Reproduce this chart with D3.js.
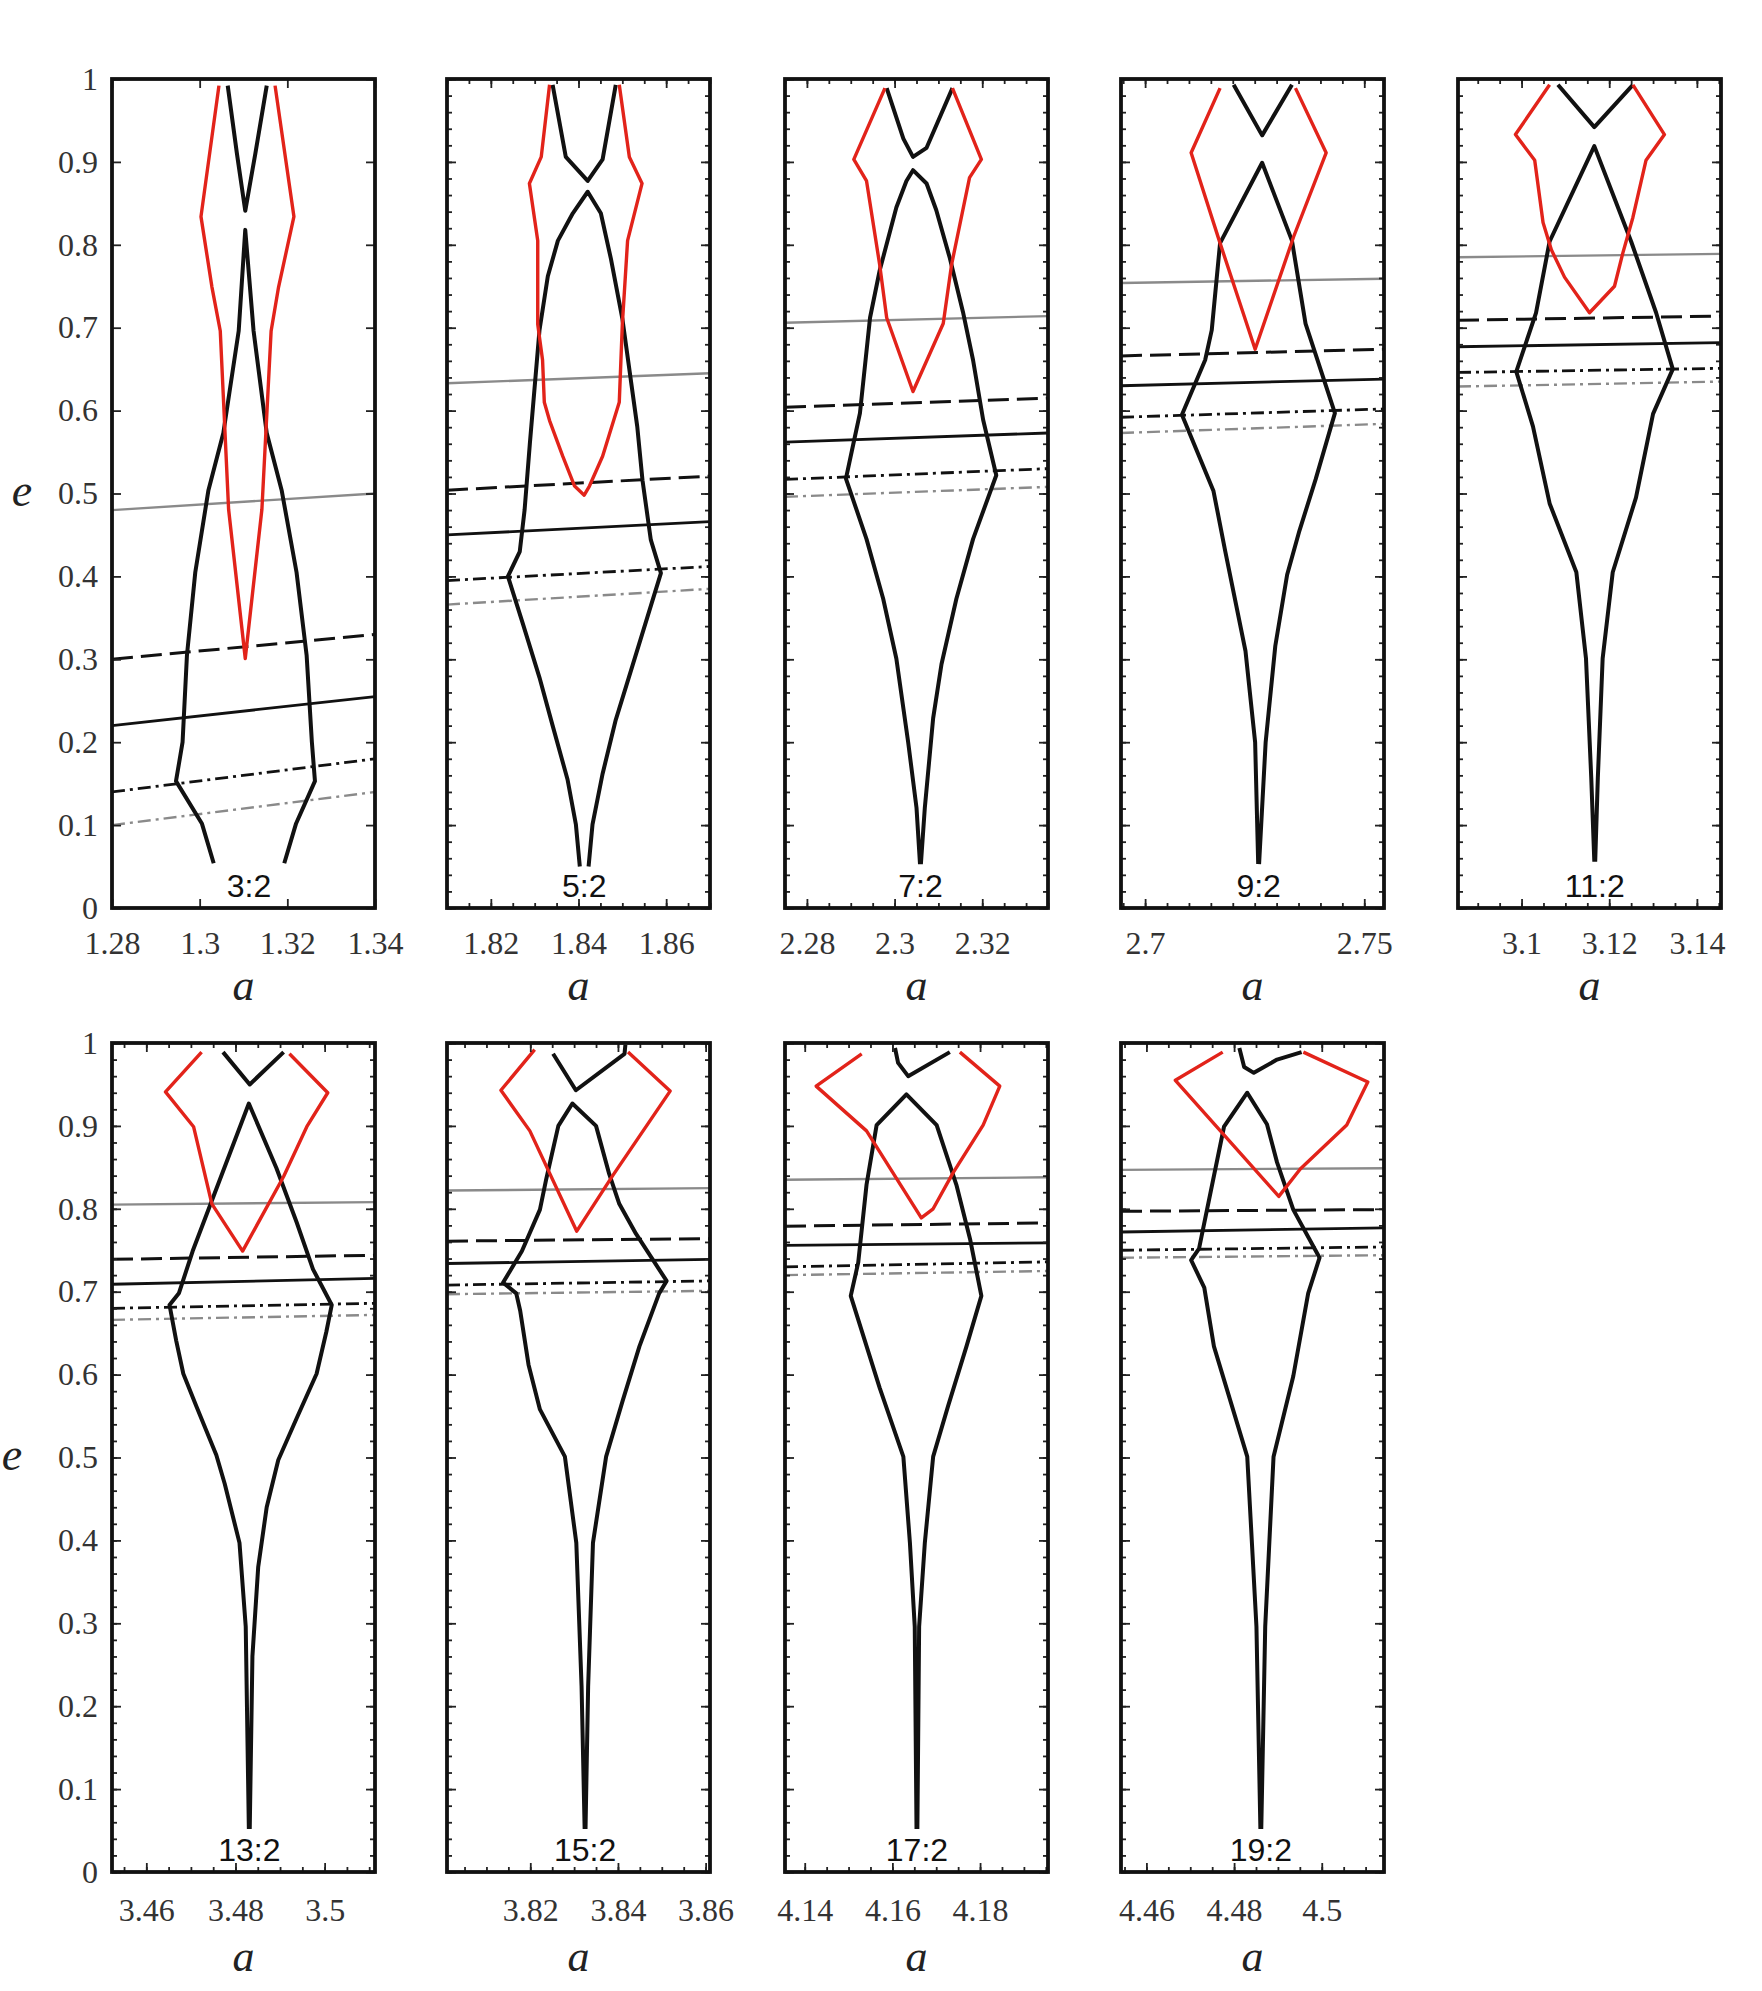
<!DOCTYPE html>
<html>
<head>
<meta charset="utf-8">
<script src="https://cdn.jsdelivr.net/npm/d3@7"></script>
<style>
  body { margin: 0; background: #fff; }
</style>
</head>
<body>
<svg id="chart" width="1762" height="1991"></svg>
<script>
// resonance of each panel, read left to right, top row first
const ratios = ['3:2', '5:2', '7:2', '9:2', '11:2', '13:2', '15:2', '17:2', '19:2'];

// semi-major axis range shown in each panel
const aDomains = [
  [1.28, 1.34], [1.81, 1.87], [2.275, 2.335], [2.6945, 2.7545], [3.0855, 3.1455],
  [3.4523, 3.5113], [3.801, 3.861], [4.1355, 4.1955], [4.4542, 4.5142],
];

// labelled ticks on the a axis
const aTickLabels = [
  [1.28, 1.3, 1.32, 1.34], [1.82, 1.84, 1.86], [2.28, 2.3, 2.32], [2.7, 2.75], [3.1, 3.12, 3.14],
  [3.46, 3.48, 3.5], [3.82, 3.84, 3.86], [4.14, 4.16, 4.18], [4.46, 4.48, 4.5],
];

const eTicks = [0, 0.1, 0.2, 0.3, 0.4, 0.5, 0.6, 0.7, 0.8, 0.9, 1];

// lower black boundary (left foot -> top cusp -> right foot), [a, e]
const lowerBranch = [
  [[1.3032, 0.054], [1.3005, 0.102], [1.2946, 0.153], [1.2961, 0.20], [1.2971, 0.305], [1.2990, 0.405],
   [1.3020, 0.504], [1.3054, 0.573], [1.3089, 0.696], [1.3104, 0.818], [1.3123, 0.696], [1.3153, 0.573],
   [1.3187, 0.504], [1.3221, 0.405], [1.3244, 0.305], [1.3256, 0.20], [1.3263, 0.153], [1.3220, 0.102],
   [1.3193, 0.054]],
  [[1.8403, 0.05], [1.8394, 0.101], [1.8375, 0.155], [1.8341, 0.22], [1.8311, 0.278], [1.8273, 0.343],
   [1.8239, 0.40], [1.8266, 0.43], [1.8277, 0.48], [1.8289, 0.56], [1.8311, 0.697], [1.833, 0.762],
   [1.8353, 0.805], [1.8387, 0.838], [1.8421, 0.864], [1.8451, 0.838], [1.8474, 0.783], [1.85, 0.711],
   [1.8534, 0.581], [1.8546, 0.516], [1.8565, 0.444], [1.8588, 0.404], [1.8523, 0.292], [1.8485, 0.227],
   [1.8455, 0.162], [1.8432, 0.101], [1.8423, 0.05]],
  [[2.3058, 0.053], [2.305, 0.121], [2.3031, 0.2], [2.3004, 0.301], [2.2974, 0.373], [2.2936, 0.445],
   [2.2889, 0.518], [2.2906, 0.56], [2.2921, 0.597], [2.2944, 0.712], [2.2966, 0.769], [2.3004, 0.845],
   [2.3027, 0.877], [2.3042, 0.89], [2.3073, 0.874], [2.3095, 0.842], [2.3126, 0.784], [2.3156, 0.719],
   [2.3179, 0.661], [2.3202, 0.589], [2.3232, 0.522], [2.3179, 0.445], [2.3141, 0.373], [2.3107, 0.294],
   [2.3088, 0.229], [2.3069, 0.121], [2.306, 0.053]],
  [[2.7258, 0.053], [2.7251, 0.2], [2.7229, 0.31], [2.7183, 0.43], [2.7156, 0.503], [2.7084, 0.595],
   [2.7137, 0.661], [2.7152, 0.697], [2.7171, 0.802], [2.7267, 0.899], [2.7335, 0.805], [2.7366, 0.705],
   [2.7433, 0.597], [2.7389, 0.517], [2.7352, 0.455], [2.7324, 0.402], [2.7297, 0.316], [2.7275, 0.2],
   [2.726, 0.053]],
  [[3.1166, 0.056], [3.1159, 0.157], [3.1147, 0.301], [3.1125, 0.405], [3.1064, 0.488], [3.1026, 0.581],
   [3.0988, 0.647], [3.1033, 0.718], [3.1064, 0.804], [3.1166, 0.919], [3.125, 0.804], [3.1307, 0.718],
   [3.1345, 0.65], [3.13, 0.596], [3.1261, 0.495], [3.1208, 0.405], [3.1185, 0.301], [3.1174, 0.157],
   [3.1168, 0.056]],
  [[3.483, 0.052], [3.4823, 0.296], [3.4809, 0.397], [3.4776, 0.468], [3.4757, 0.503], [3.4712, 0.562],
   [3.4683, 0.601], [3.4667, 0.641], [3.4652, 0.684], [3.4673, 0.698], [3.4704, 0.749], [3.483, 0.927],
   [3.4892, 0.849], [3.4937, 0.784], [3.4974, 0.727], [3.5016, 0.684], [3.5004, 0.652], [3.4982, 0.601],
   [3.4937, 0.547], [3.4896, 0.497], [3.487, 0.44], [3.4851, 0.368], [3.4838, 0.26], [3.4832, 0.052]],
  [[3.8324, 0.052], [3.8317, 0.224], [3.8305, 0.397], [3.8279, 0.501], [3.8222, 0.558], [3.8196, 0.612],
   [3.8177, 0.677], [3.8168, 0.698], [3.8138, 0.711], [3.8181, 0.749], [3.8222, 0.799], [3.8236, 0.835],
   [3.8264, 0.9], [3.8296, 0.927], [3.835, 0.9], [3.838, 0.842], [3.8403, 0.806], [3.8441, 0.77],
   [3.8511, 0.713], [3.8494, 0.698], [3.8449, 0.634], [3.8411, 0.569], [3.8373, 0.501], [3.8343, 0.397],
   [3.8332, 0.224], [3.8326, 0.052]],
  [[4.1655, 0.052], [4.1651, 0.296], [4.164, 0.397], [4.1625, 0.501], [4.1571, 0.584], [4.1505, 0.695],
   [4.1522, 0.735], [4.1541, 0.829], [4.1564, 0.901], [4.1632, 0.938], [4.1701, 0.901], [4.1746, 0.829],
   [4.1777, 0.764], [4.1803, 0.695], [4.1769, 0.634], [4.1727, 0.562], [4.1693, 0.501], [4.1674, 0.397],
   [4.1661, 0.296], [4.1657, 0.052]],
  [[4.486, 0.052], [4.4851, 0.296], [4.483, 0.501], [4.4754, 0.634], [4.4732, 0.705], [4.4702, 0.738],
   [4.472, 0.752], [4.4777, 0.899], [4.483, 0.94], [4.4875, 0.902], [4.4898, 0.856], [4.4935, 0.799],
   [4.4995, 0.741], [4.4969, 0.698], [4.4935, 0.598], [4.489, 0.501], [4.4871, 0.296], [4.4862, 0.052]],
];

// upper black boundary near e = 1
const upperBranch = [
  [[1.3064, 0.992], [1.3085, 0.91], [1.3104, 0.841], [1.3127, 0.91], [1.3153, 0.992]],
  [[1.8341, 0.993], [1.8371, 0.906], [1.8421, 0.877], [1.8455, 0.903], [1.8485, 0.993]],
  [[2.2982, 0.989], [2.302, 0.928], [2.3042, 0.906], [2.3073, 0.917], [2.3132, 0.989]],
  [[2.7202, 0.993], [2.7267, 0.932], [2.7335, 0.993]],
  [[3.1083, 0.993], [3.1166, 0.942], [3.1254, 0.993]],
  [[3.4772, 0.989], [3.4832, 0.95], [3.4908, 0.989]],
  [[3.8252, 0.987], [3.8304, 0.943], [3.8415, 0.987], [3.8417, 0.998]],
  [[4.1606, 0.994], [4.1613, 0.976], [4.1636, 0.96], [4.1731, 0.989]],
  [[4.4812, 0.994], [4.4823, 0.971], [4.4845, 0.964], [4.4898, 0.98], [4.4954, 0.989]],
];

// red boundary
const redBoundary = [
  [[1.3044, 0.992], [1.3003, 0.834], [1.3028, 0.749], [1.3047, 0.696], [1.3066, 0.481], [1.3104, 0.301],
   [1.3142, 0.481], [1.3163, 0.696], [1.318, 0.749], [1.3215, 0.834], [1.3172, 0.992]],
  [[1.8334, 0.993], [1.8315, 0.906], [1.8288, 0.874], [1.8307, 0.805], [1.8307, 0.704], [1.8318, 0.661],
   [1.8322, 0.61], [1.8334, 0.588], [1.8364, 0.545], [1.8391, 0.509], [1.8413, 0.498], [1.8425, 0.509],
   [1.8455, 0.545], [1.8493, 0.61], [1.85, 0.704], [1.8512, 0.805], [1.8545, 0.874], [1.8516, 0.906],
   [1.8493, 0.993]],
  [[2.2978, 0.989], [2.2907, 0.903], [2.2936, 0.877], [2.2966, 0.776], [2.2982, 0.712], [2.3042, 0.623],
   [2.3111, 0.705], [2.313, 0.776], [2.3171, 0.881], [2.3198, 0.903], [2.3132, 0.989]],
  [[2.7171, 0.989], [2.7105, 0.911], [2.7171, 0.802], [2.7251, 0.674], [2.7339, 0.81], [2.7413, 0.911],
   [2.7343, 0.989]],
  [[3.1064, 0.993], [3.0986, 0.933], [3.103, 0.902], [3.1049, 0.827], [3.1068, 0.794], [3.1098, 0.761],
   [3.1155, 0.718], [3.1212, 0.75], [3.1231, 0.79], [3.1254, 0.833], [3.1284, 0.902], [3.1326, 0.933],
   [3.1254, 0.993]],
  [[3.4724, 0.989], [3.4643, 0.941], [3.4706, 0.899], [3.4747, 0.806], [3.4816, 0.749], [3.4908, 0.839],
   [3.496, 0.899], [3.5007, 0.94], [3.4921, 0.987]],
  [[3.821, 0.992], [3.8133, 0.943], [3.8199, 0.894], [3.8306, 0.773], [3.8388, 0.84], [3.8519, 0.942],
   [3.8423, 0.989]],
  [[4.153, 0.987], [4.1426, 0.948], [4.1541, 0.894], [4.1666, 0.789], [4.1693, 0.8], [4.1738, 0.843],
   [4.1807, 0.901], [4.1845, 0.948], [4.1754, 0.989]],
  [[4.4774, 0.989], [4.4666, 0.955], [4.4902, 0.815], [4.4951, 0.848], [4.5057, 0.901], [4.5105, 0.953],
   [4.4958, 0.989]],
];

// straight lines across each panel: e at the left and right edge
const grayLine = [[0.48, 0.50], [0.633, 0.645], [0.706, 0.714], [0.754, 0.759], [0.785, 0.789],
  [0.805, 0.808], [0.822, 0.825], [0.835, 0.838], [0.847, 0.849]];
const dashedLine = [[0.30, 0.33], [0.504, 0.521], [0.604, 0.615], [0.666, 0.674], [0.709, 0.714],
  [0.739, 0.744], [0.761, 0.764], [0.779, 0.783], [0.797, 0.799]];
const solidLine = [[0.22, 0.255], [0.45, 0.466], [0.562, 0.573], [0.63, 0.638], [0.677, 0.682],
  [0.709, 0.716], [0.734, 0.739], [0.756, 0.759], [0.772, 0.777]];
const dashDotLine = [[0.14, 0.18], [0.395, 0.412], [0.517, 0.53], [0.592, 0.602], [0.646, 0.651],
  [0.68, 0.686], [0.708, 0.713], [0.73, 0.736], [0.75, 0.754]];
const grayDashDotLine = [[0.10, 0.14], [0.366, 0.385], [0.496, 0.508], [0.573, 0.584], [0.629, 0.635],
  [0.666, 0.672], [0.697, 0.701], [0.72, 0.725], [0.741, 0.744]];

const svg = d3.select('#chart');
const colLeft = [112, 447, 785, 1121, 1458];
const rowTop = [79, 1043];
const panelW = 263;
const panelH = 829;
const serif = '"Liberation Serif", "Times New Roman", Times, serif';

const lineStyles = [
  { rows: grayLine, stroke: '#8a8a8a', width: 2.4, dash: null },
  { rows: grayDashDotLine, stroke: '#8a8a8a', width: 2.4, dash: '13 5 3 5' },
  { rows: dashDotLine, stroke: '#111', width: 2.8, dash: '13 5 3 5' },
  { rows: solidLine, stroke: '#111', width: 2.8, dash: null },
  { rows: dashedLine, stroke: '#111', width: 3, dash: '21 8' },
];

function stepValues(domain, step) {
  const lo = Math.ceil(domain[0] / step - 1e-6);
  const hi = Math.floor(domain[1] / step + 1e-6);
  return d3.range(lo, hi + 1).map(k => +(k * step).toFixed(4));
}

function styleAxis(sel) {
  sel.select('.domain').remove();
  sel.selectAll('.tick line').attr('stroke', '#222').attr('stroke-width', 1.8);
  sel.selectAll('.tick text')
    .style('font-family', serif)
    .style('font-size', '32px')
    .attr('fill', '#333');
}

ratios.forEach((ratio, i) => {
  const row = i < 5 ? 0 : 1;
  const col = row === 0 ? i : i - 5;
  const g = svg.append('g').attr('transform', `translate(${colLeft[col]},${rowTop[row]})`);

  const x = d3.scaleLinear().domain(aDomains[i]).range([0, panelW]);
  const y = d3.scaleLinear().domain([0, 1]).range([panelH, 0]);
  const line = d3.line().x(d => x(d[0])).y(d => y(d[1]));

  g.append('clipPath').attr('id', `clip${i}`)
    .append('rect').attr('width', panelW).attr('height', panelH);
  const plot = g.append('g').attr('clip-path', `url(#clip${i})`);

  // minor ticks (all panels but the first)
  if (i > 0) {
    const minorX = stepValues(aDomains[i], 0.005);
    const minorY = stepValues([0, 1], 0.02);
    g.append('g').attr('transform', `translate(0,${panelH})`)
      .call(d3.axisBottom(x).tickValues(minorX).tickSize(-5).tickFormat('')).call(styleAxis);
    g.append('g')
      .call(d3.axisTop(x).tickValues(minorX).tickSize(-5).tickFormat('')).call(styleAxis);
    g.append('g')
      .call(d3.axisLeft(y).tickValues(minorY).tickSize(-5).tickFormat('')).call(styleAxis);
    g.append('g').attr('transform', `translate(${panelW},0)`)
      .call(d3.axisRight(y).tickValues(minorY).tickSize(-5).tickFormat('')).call(styleAxis);
  }

  // major ticks with labels
  g.append('g').attr('transform', `translate(0,${panelH})`)
    .call(d3.axisBottom(x).tickValues(aTickLabels[i]).tickSize(-9).tickPadding(row === 0 ? 23 : 26)
      .tickFormat(d => String(d)))
    .call(styleAxis);
  g.append('g')
    .call(d3.axisTop(x).tickValues(aTickLabels[i]).tickSize(-9).tickFormat(''))
    .call(styleAxis);
  const yLeft = d3.axisLeft(y).tickValues(eTicks).tickSize(-9).tickPadding(14);
  g.append('g').call(col === 0 ? yLeft.tickFormat(d => String(d)) : yLeft.tickFormat('')).call(styleAxis);
  g.append('g').attr('transform', `translate(${panelW},0)`)
    .call(d3.axisRight(y).tickValues(eTicks).tickSize(-9).tickFormat(''))
    .call(styleAxis);

  // straight reference lines
  lineStyles.forEach(s => {
    const ends = s.rows[i];
    plot.append('path')
      .attr('d', line([[aDomains[i][0], ends[0]], [aDomains[i][1], ends[1]]]))
      .attr('fill', 'none')
      .attr('stroke', s.stroke)
      .attr('stroke-width', s.width)
      .attr('stroke-dasharray', s.dash);
  });

  // resonance boundaries
  [lowerBranch[i], upperBranch[i]].forEach(pts => {
    plot.append('path').attr('d', line(pts))
      .attr('fill', 'none').attr('stroke', '#111').attr('stroke-width', 4)
      .attr('stroke-linejoin', 'round');
  });
  plot.append('path').attr('d', line(redBoundary[i]))
    .attr('fill', 'none').attr('stroke', '#e2231a').attr('stroke-width', 3.4)
    .attr('stroke-linejoin', 'round');

  // ratio label under the cusp
  const foot = lowerBranch[i];
  g.append('text')
    .attr('x', x((foot[0][0] + foot[foot.length - 1][0]) / 2))
    .attr('y', y(0.013))
    .attr('text-anchor', 'middle')
    .style('font-family', '"Liberation Sans", Arial, sans-serif')
    .style('font-size', '32px')
    .attr('fill', '#111')
    .text(ratio);

  // frame
  g.append('rect').attr('width', panelW).attr('height', panelH)
    .attr('fill', 'none').attr('stroke', '#111').attr('stroke-width', 3.8);

  // axis titles
  g.append('text')
    .attr('x', panelW / 2).attr('y', panelH + (row === 0 ? 92 : 99))
    .attr('text-anchor', 'middle')
    .style('font-family', serif).style('font-style', 'italic').style('font-size', '44px')
    .attr('fill', '#222')
    .text('a');
  if (col === 0) {
    g.append('text')
      .attr('x', row === 0 ? -90 : -100).attr('y', y(0.5) + 12)
      .attr('text-anchor', 'middle')
      .style('font-family', serif).style('font-style', 'italic').style('font-size', '46px')
      .attr('fill', '#222')
      .text('e');
  }
});
</script>
</body>
</html>
